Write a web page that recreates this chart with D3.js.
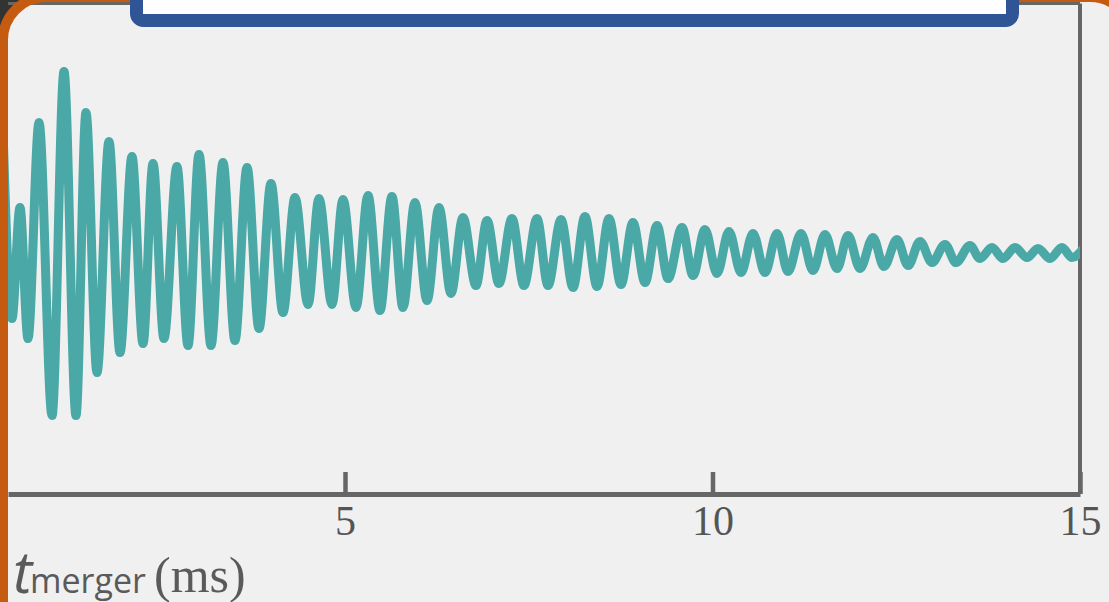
<!DOCTYPE html>
<html>
<head>
<meta charset="utf-8">
<script src="https://cdn.jsdelivr.net/npm/d3@7"></script>
<style>
  html, body { margin: 0; padding: 0; background: #333; overflow: hidden; }
  svg { display: block; }
</style>
</head>
<body>
<div id="viz"></div>
<script>
// extrema of the post-merger signal (time in ms, strain in arbitrary units)
var tExtrema = [0.347,0.469,0.578,0.687,0.837,1.014,1.177,1.340,1.476,1.626,1.789,1.939,2.102,2.252,2.388,2.537,
  2.714,2.864,3.014,3.177,3.340,3.503,3.667,3.830,3.993,4.156,4.320,4.497,4.646,4.823,4.973,5.150,5.313,5.476,
  5.639,5.789,5.952,6.116,6.279,6.442,6.605,6.782,6.932,7.095,7.272,7.435,7.612,7.762,7.939,8.102,8.265,8.429,
  8.592,8.755,8.918,9.082,9.245,9.395,9.585,9.735,9.898,10.061,10.224,10.388,10.551,10.714,10.878,11.027,11.204,
  11.367,11.531,11.694,11.844,12.007,12.184,12.333,12.510,12.660,12.823,12.986,13.163,13.313,13.503,13.639,
  13.803,13.952,14.116,14.279,14.429,14.592,14.755,14.891,15.05];
var hExtrema = [0.618,-0.328,0.228,-0.428,0.653,-0.813,0.908,-0.813,0.703,-0.598,0.558,-0.498,0.483,-0.453,0.448,-0.428,
  0.433,-0.463,0.493,-0.463,0.453,-0.438,0.428,-0.378,0.348,-0.298,0.278,-0.258,0.273,-0.258,0.268,-0.273,0.288,-0.288,
  0.283,-0.273,0.253,-0.238,0.228,-0.203,0.178,-0.163,0.163,-0.153,0.173,-0.163,0.173,-0.163,0.168,-0.173,0.183,-0.168,
  0.173,-0.158,0.153,-0.148,0.138,-0.128,0.128,-0.113,0.118,-0.103,0.108,-0.098,0.098,-0.098,0.098,-0.093,0.098,
  -0.088,0.093,-0.078,0.088,-0.078,0.078,-0.068,0.068,-0.063,0.058,-0.048,0.043,-0.048,0.038,-0.028,
  0.028,-0.028,0.028,-0.023,0.023,-0.028,0.028,-0.023,0.025];
var tickValues = [5, 10, 15];
var tickLabels = ["5", "10", "15"];

var W = 1109, H = 602;
var plotLeft = 8, plotRight = 1080, plotTop = 3.5, axisY = 494;

var svg = d3.select("#viz")
  .append("svg")
  .attr("width", W)
  .attr("height", H);

var x = d3.scaleLinear().domain([0.415, 15]).range([plotLeft, plotRight]);
var y = d3.scaleLinear().domain([-1, 1]).range([453, 53]);

// slide panel (inside of the orange frame)
svg.append("rect")
  .attr("x", 3).attr("y", -3)
  .attr("width", 1130).attr("height", 660)
  .attr("rx", 43)
  .style("fill", "#f0f0f0");

// plot frame: top and right lines
svg.append("line")
  .attr("x1", plotLeft).attr("x2", plotRight)
  .attr("y1", plotTop).attr("y2", plotTop)
  .style("stroke", "#666").style("stroke-width", 3);
svg.append("line")
  .attr("x1", x(15)).attr("x2", x(15))
  .attr("y1", plotTop).attr("y2", axisY)
  .style("stroke", "#666").style("stroke-width", 4);

// clip for the signal
svg.append("clipPath").attr("id", "plotclip")
  .append("rect")
  .attr("x", plotLeft).attr("y", plotTop)
  .attr("width", plotRight - plotLeft).attr("height", axisY - plotTop);

var line = d3.line()
  .x(function(d) { return x(d[0]); })
  .y(function(d) { return y(d[1]); })
  .curve(d3.curveMonotoneX);

svg.append("path")
  .datum(d3.zip(tExtrema, hExtrema))
  .attr("clip-path", "url(#plotclip)")
  .attr("d", line)
  .style("fill", "none")
  .style("stroke", "#4aa8a6")
  .style("stroke-width", 9)
  .style("stroke-linejoin", "round")
  .style("stroke-linecap", "round");

// x axis, ticks pointing inward
var xAxis = d3.axisBottom(x)
  .tickValues(tickValues)
  .tickFormat(function(d, i) { return tickLabels[i]; })
  .tickSize(-22)
  .tickSizeOuter(0)
  .tickPadding(11);

var gx = svg.append("g")
  .attr("transform", "translate(0," + axisY + ")")
  .call(xAxis);
gx.select(".domain").style("stroke", "#666").style("stroke-width", 5);
gx.selectAll(".tick line").style("stroke", "#666").style("stroke-width", 4.5);
gx.selectAll(".tick text")
  .style("font-family", "'Liberation Serif', 'Times New Roman', serif")
  .style("font-size", "42px")
  .style("fill", "#555");

// axis label: t_merger (ms)
svg.append("text")
  .attr("x", 13).attr("y", 593)
  .style("font-family", "'Open Sans', sans-serif")
  .style("font-style", "italic")
  .style("font-size", "58px")
  .style("fill", "#5a5a5a")
  .text("t");
svg.append("text")
  .attr("x", 30).attr("y", 593)
  .style("font-family", "'Open Sans', sans-serif")
  .style("font-size", "34px")
  .style("fill", "#5a5a5a")
  .text("merger");
svg.append("text")
  .attr("x", 154).attr("y", 592)
  .style("font-family", "'Liberation Serif', 'Times New Roman', serif")
  .style("font-size", "50px")
  .style("fill", "#5a5a5a")
  .text("(ms)");

// orange slide frame
svg.append("rect")
  .attr("x", 3).attr("y", -3)
  .attr("width", 1130).attr("height", 660)
  .attr("rx", 43)
  .style("fill", "none")
  .style("stroke", "#c55a11")
  .style("stroke-width", 10);

// blue title box at the top
svg.append("rect")
  .attr("x", 136.5).attr("y", -20)
  .attr("width", 876).attr("height", 40.5)
  .attr("rx", 7)
  .style("fill", "#fff")
  .style("stroke", "#2f5597")
  .style("stroke-width", 13);
</script>
</body>
</html>
